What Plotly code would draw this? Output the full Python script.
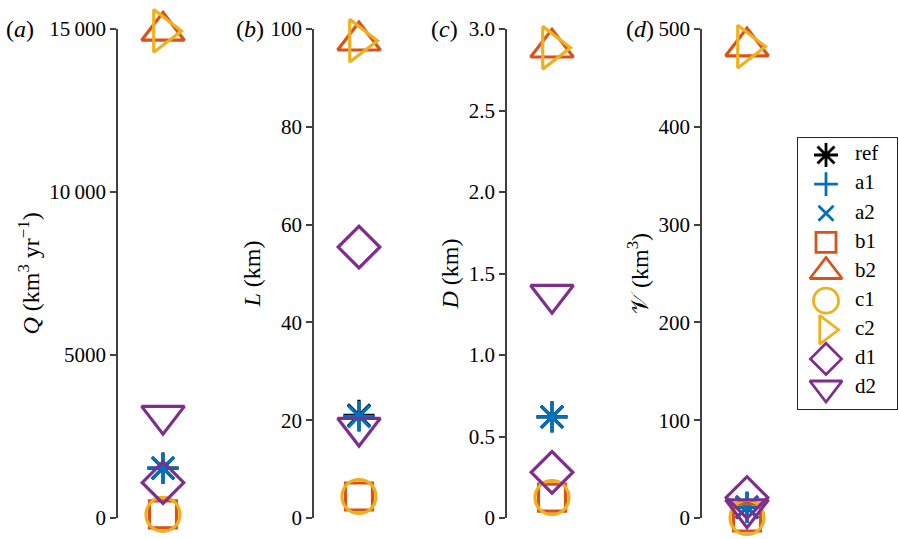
import plotly.graph_objects as go

# ---- data -------------------------------------------------------------
series = ["ref", "a1", "a2", "b1", "b2", "c1", "c2", "d1", "d2"]
Q_vals = [1530, 1530, 1530, 110, 14940, 110, 14940, 1085, 3140]      # km^3/yr
L_vals = [21.0, 20.8, 20.8, 4.4, 97.6, 4.4, 97.6, 55.4, 18.5]         # km
D_vals = [0.62, 0.62, 0.62, 0.125, 2.885, 0.125, 2.885, 0.28, 1.37]   # km
V_vals = [11, 11, 11, 0.5, 482, 0.5, 482, 21, 9]                      # km^3

Q_ticks = [0, 5000, 10000, 15000]
Q_ticktext = ["0", "5000", "10\u2009000", "15\u2009000"]
L_ticks = [0, 20, 40, 60, 80, 100]
D_ticks = [0, 0.5, 1.0, 1.5, 2.0, 2.5, 3.0]
D_ticktext = ["0", "0.5", "1.0", "1.5", "2.0", "2.5", "3.0"]
V_ticks = [0, 100, 200, 300, 400, 500]

# ---- styles -----------------------------------------------------------
BLUE, ORANGE, YELLOW, PURPLE = "#0072BD", "#D95319", "#EDB120", "#7E2F8E"
colors = ["#000000", BLUE, BLUE, ORANGE, ORANGE, YELLOW, YELLOW, PURPLE, PURPLE]
symbols = ["asterisk-open", "cross-thin-open", "x-thin-open", "square-open",
           "triangle-up-open", "circle-open", "triangle-right-open",
           "diamond-open", "triangle-down-open"]
panel_sizes = [26, 22, 22, 27, 37, 34, 37, 32, 37]
legend_sizes = [20, 17, 15, 20, 28, 25, 25, 24, 28]
LW = 3.2

FONT = "Times New Roman"
W, H = 899, 539

def px_x(p):
    return p / W

def px_y(p):
    return 1 - p / H

panels = [
    # (values, range, tickvals, ticktext, title, axis-x px, label, label x px)
    (Q_vals, [0, 15000], Q_ticks, Q_ticktext,
     "<i>Q</i> (km<sup>3</sup> yr<sup>\u22121</sup>)", 118, "(<i>a</i>)", 4),
    (L_vals, [0, 100], L_ticks, [str(t) for t in L_ticks],
     "<i>L</i> (km)", 314, "(<i>b</i>)", 234),
    (D_vals, [0, 3], D_ticks, D_ticktext,
     "<i>D</i> (km)", 507, "(<i>c</i>)", 429),
    (V_vals, [0, 500], V_ticks, [str(t) for t in V_ticks],
     "\U0001D4B1 (km<sup>3</sup>)", 702, "(<i>d</i>)", 624),
]

PANEL_W = 90           # px width of each panel's plotting area
TOP, BOTTOM = 29, 518  # px extent of the y axes

fig = go.Figure()
layout = dict(
    width=W, height=H,
    margin=dict(l=0, r=0, t=0, b=0, autoexpand=False),
    paper_bgcolor="white", plot_bgcolor="white",
    showlegend=False,
    font=dict(family=FONT, size=21, color="#000000"),
    annotations=[],
)

for i, (vals, yr, tv, tt, title, ax_px, label, lab_px) in enumerate(panels, start=1):
    xa = "x" if i == 1 else f"x{i}"
    ya = "y" if i == 1 else f"y{i}"
    fig.add_trace(go.Scatter(
        x=[1] * len(vals), y=vals, mode="markers", xaxis=xa, yaxis=ya,
        cliponaxis=False, hoverinfo="skip",
        marker=dict(symbol=symbols, size=panel_sizes, color=colors, opacity=1,
                    line=dict(width=LW, color=colors)),
    ))
    xkey = "xaxis" if i == 1 else f"xaxis{i}"
    ykey = "yaxis" if i == 1 else f"yaxis{i}"
    layout[xkey] = dict(domain=[px_x(ax_px), px_x(ax_px + PANEL_W)], range=[0, 2],
                        visible=False, anchor=ya, automargin=False)
    layout[ykey] = dict(domain=[px_y(BOTTOM), px_y(TOP)], range=yr, anchor=xa,
                        automargin=False,
                        tickvals=tv, ticktext=tt, ticks="outside", ticklen=6,
                        tickwidth=1.5, tickcolor="#404040",
                        showline=True, linecolor="#404040", linewidth=1.5,
                        showgrid=False, zeroline=False,
                        tickfont=dict(family=FONT, size=21, color="#000000"),
                        title=dict(text=title, standoff=3,
                                   font=dict(family=FONT, size=24, color="#000000")))
    layout["annotations"].append(dict(
        text=label, xref="paper", yref="paper", x=px_x(lab_px), y=px_y(TOP),
        xanchor="left", yanchor="middle", showarrow=False,
        font=dict(family=FONT, size=24, color="#000000")))

# ---- legend panel -----------------------------------------------------
LEG_L, LEG_R, LEG_T, LEG_B = 798, 897, 138, 409
leg_idx = list(range(len(series)))
fig.add_trace(go.Scatter(
    x=[28] * len(series), y=leg_idx, mode="markers", xaxis="x5", yaxis="y5",
    cliponaxis=False, hoverinfo="skip",
    marker=dict(symbol=symbols, size=legend_sizes, color=colors, opacity=1,
                line=dict(width=2.8, color=colors)),
))
fig.add_trace(go.Scatter(
    x=[57] * len(series), y=leg_idx, mode="text", text=series,
    textposition="middle right", xaxis="x5", yaxis="y5", cliponaxis=False,
    hoverinfo="skip", textfont=dict(family=FONT, size=21, color="#000000"),
))
step = 29.125
layout["xaxis5"] = dict(domain=[px_x(LEG_L), px_x(LEG_R)], range=[0, LEG_R - LEG_L],
                        showline=True, mirror=True, linecolor="#262626", linewidth=1,
                        showticklabels=False, ticks="", showgrid=False,
                        zeroline=False, anchor="y5", automargin=False)
layout["yaxis5"] = dict(domain=[px_y(LEG_B), px_y(LEG_T)],
                        range=[8 + 21 / step, -17 / step],
                        showline=True, mirror=True, linecolor="#262626", linewidth=1,
                        showticklabels=False, ticks="", showgrid=False,
                        zeroline=False, anchor="x5", automargin=False)

fig.update_layout(**layout)
fig.write_html("out.html")
